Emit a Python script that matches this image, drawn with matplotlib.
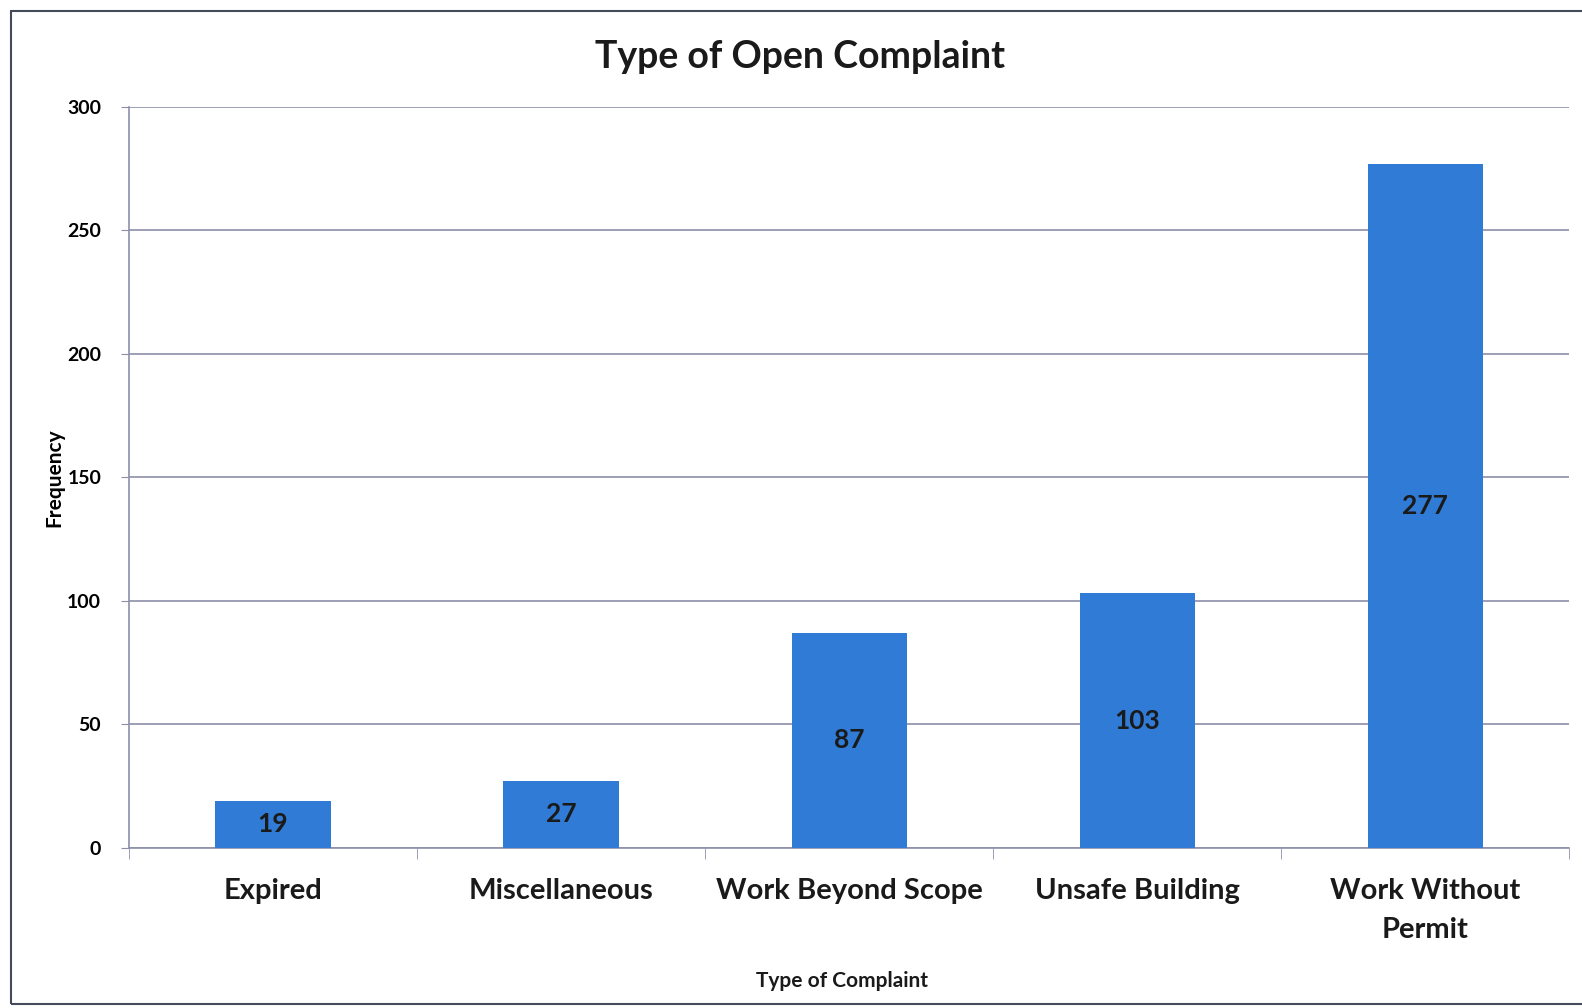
import matplotlib.pyplot as plt
from matplotlib.patches import Rectangle

# Data
categories = ["Expired", "Miscellaneous", "Work Beyond Scope", "Unsafe Building", "Work Without\nPermit"]
counts = [19, 27, 87, 103, 277]
yticks = [0, 50, 100, 150, 200, 250, 300]

plt.rcParams['font.family'] = ['Lato', 'DejaVu Sans']

fig = plt.figure(figsize=(15.82, 10.08), dpi=100)
ax = fig.add_axes([0.0815, 0.159, 0.9105, 0.735])

x = list(range(len(categories)))
bars = ax.bar(x, counts, width=0.4, color="#2f7bd6", zorder=3)

for b, v in zip(bars, counts):
    ax.text(b.get_x() + b.get_width() / 2, v / 2, str(v), ha="center", va="center",
            fontsize=19, fontweight="bold", color="#1a1a1a", zorder=4)

ax.set_xlim(-0.5, len(categories) - 0.5)
ax.set_ylim(0, 300)
ax.set_yticks(yticks)
ax.set_yticklabels([str(t) for t in yticks], fontsize=14, fontweight="bold")
ax.yaxis.grid(True, color="#8c90a8", linewidth=1.2, zorder=0)

ax.set_xticks(x)
ax.set_xticklabels(categories, fontsize=21, fontweight="bold", color="#1a1a1a",
                   linespacing=1.6)
ax.set_xticks([i - 0.5 for i in range(len(categories) + 1)], minor=True)
ax.tick_params(axis="x", which="major", length=0, pad=22)
ax.tick_params(axis="x", which="minor", length=8, color="#8c90a8", direction="out")
ax.tick_params(axis="y", length=6, color="#8c90a8", pad=14)

for s in ["top", "right"]:
    ax.spines[s].set_visible(False)
ax.spines["left"].set_color("#8c90a8")
ax.spines["bottom"].set_color("#8c90a8")
ax.spines["left"].set_linewidth(1.2)
ax.spines["bottom"].set_linewidth(1.2)

ax.set_ylabel("Frequency", fontsize=15, fontweight="bold", labelpad=2)
fig.text(0.532, 0.027, "Type of Complaint", ha="center", va="center",
         fontsize=15, fontweight="bold", color="#1a1a1a")
fig.text(0.506, 0.943, "Type of Open Complaint", ha="center", va="center",
         fontsize=27, fontweight="bold", color="#1a1a1a")

# outer chart border
fig.patches.append(Rectangle((0.007, 0.004), 1.2, 0.985, transform=fig.transFigure,
                             fill=False, edgecolor="#444a5a", linewidth=1.5))

fig.savefig("out.png", dpi=100)
